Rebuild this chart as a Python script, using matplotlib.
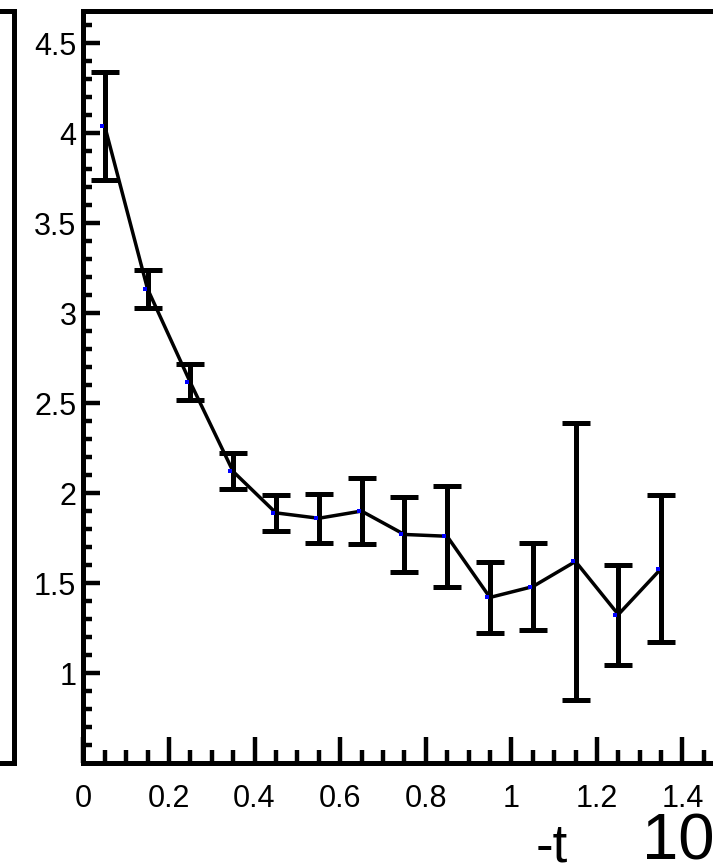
import matplotlib
matplotlib.use("Agg")
import matplotlib.pyplot as plt
import matplotlib.transforms as mtransforms

plt.rcParams['font.family'] = ['Liberation Sans', 'DejaVu Sans']

# данные: -t (центры бинов), значение и ошибка
t_vals = [0.05, 0.15, 0.25, 0.35, 0.45, 0.55, 0.65, 0.75, 0.85, 0.95, 1.05, 1.15, 1.25, 1.35]
y_vals = [4.04, 3.135, 2.615, 2.12, 1.89, 1.86, 1.90, 1.77, 1.76, 1.42, 1.48, 1.62, 1.325, 1.58]
y_errs = [0.30, 0.105, 0.10, 0.10, 0.10, 0.135, 0.185, 0.21, 0.28, 0.197, 0.243, 0.77, 0.278, 0.41]

x_ticks = [0, 0.2, 0.4, 0.6, 0.8, 1.0, 1.2, 1.4]
x_ticklabels = ["0", "0.2", "0.4", "0.6", "0.8", "1", "1.2", "1.4"]
y_ticks = [1, 1.5, 2, 2.5, 3, 3.5, 4, 4.5]
y_ticklabels = ["1", "1.5", "2", "2.5", "3", "3.5", "4", "4.5"]

W, H = 713, 863
fig = plt.figure(figsize=(W / 100, H / 100), dpi=100)

ax_l, ax_b, ax_t = 83.3, 763, 10.8
x_max = 1.5
px_per_x = 428
ax = fig.add_axes([ax_l / W, (H - ax_b) / H, x_max * px_per_x / W, (ax_b - ax_t) / H])

# кусок соседней панели слева
ax0 = fig.add_axes([-0.5, (H - ax_b) / H, 0.5 + 14 / W, (ax_b - ax_t) / H])
ax0.set_xticks([])
ax0.set_yticks([])
for s in ax0.spines.values():
    s.set_linewidth(3.6)

ax.errorbar(t_vals, y_vals, yerr=y_errs, color='black', lw=2.5,
            elinewidth=3.6, capsize=10, capthick=3.6, zorder=3)

# синие точки, чуть левее
offset = mtransforms.ScaledTranslation(-3 / 100, 0, fig.dpi_scale_trans)
ax.plot(t_vals, y_vals, 's', color='blue', markersize=2.8, markeredgewidth=0,
        transform=ax.transData + offset, zorder=4)

ax.set_xlim(0, x_max)
ax.set_ylim(0.5, 4.68)
ax.set_xticks(x_ticks)
ax.set_xticklabels(x_ticklabels)
ax.set_yticks(y_ticks)
ax.set_yticklabels(y_ticklabels)
ax.set_xticks([i * 0.05 for i in range(1, 30)], minor=True)
ax.set_yticks([0.5 + i * 0.1 for i in range(1, 42)], minor=True)

for s in ax.spines.values():
    s.set_linewidth(3.6)

ax.tick_params(axis='both', which='both', direction='in', width=3.2, labelsize=22)
ax.tick_params(axis='x', which='major', length=18.5, pad=15)
ax.tick_params(axis='x', which='minor', length=9.5)
ax.tick_params(axis='y', which='major', length=12, pad=5)
ax.tick_params(axis='y', which='minor', length=6.5)

fig.text(552 / W, 1 - 861 / H, "-t", fontsize=38, ha='center', va='baseline')
fig.text(642 / W, 1 - 859 / H, "10", fontsize=47, ha='left', va='baseline')

fig.savefig("out.png", dpi=100)
